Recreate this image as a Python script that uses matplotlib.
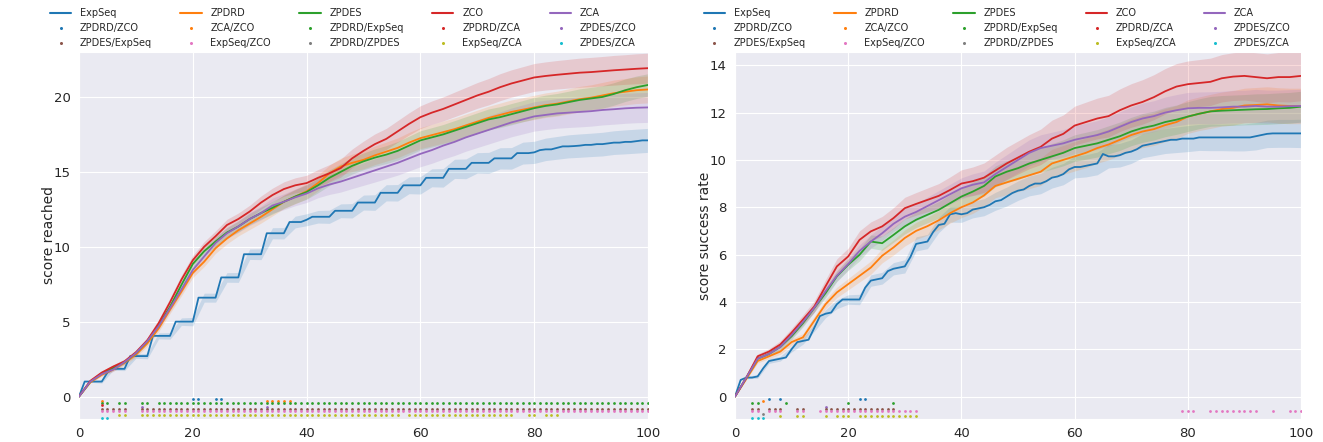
import matplotlib
matplotlib.use("Agg")
import matplotlib.pyplot as plt
from matplotlib.lines import Line2D
import numpy as np
import seaborn as sns

sns.set_style("darkgrid")
plt.rcParams["font.family"] = ["DejaVu Sans"]

# ---------------- data ----------------
series = ["ExpSeq", "ZPDRD", "ZPDES", "ZCO", "ZCA"]
pairs = ["ZPDRD/ZCO", "ZCA/ZCO", "ZPDRD/ExpSeq", "ZPDRD/ZCA", "ZPDES/ZCO",
         "ZPDES/ExpSeq", "ExpSeq/ZCO", "ZPDRD/ZPDES", "ExpSeq/ZCA", "ZPDES/ZCA"]
x_ticks = [0, 20, 40, 60, 80, 100]
yticks_left = [0, 5, 10, 15, 20]
yticks_right = [0, 2, 4, 6, 8, 10, 12, 14]

t_fine = list(range(0, 101))        # every time step (ExpSeq, step-like)
t_coarse = list(range(0, 101, 2))   # every second step (other series)

# ---- left panel: score reached ----
L_expseq = [0.0, 1.0, 1.0, 1.0, 1.0, 1.6, 1.85, 1.85, 1.85, 2.7,
            2.7, 2.7, 2.7, 4.05, 4.05, 4.05, 4.05, 5.0, 5.0, 5.0,
            5.0, 6.6, 6.6, 6.6, 6.6, 7.95, 7.95, 7.95, 7.95, 9.5,
            9.5, 9.5, 9.5, 10.9, 10.9, 10.9, 10.9, 11.65, 11.65, 11.65,
            11.8, 12.0, 12.0, 12.0, 12.0, 12.4, 12.4, 12.4, 12.4, 12.95,
            12.95, 12.95, 12.95, 13.6, 13.6, 13.6, 13.6, 14.1, 14.1, 14.1,
            14.1, 14.6, 14.6, 14.6, 14.6, 15.2, 15.2, 15.2, 15.2, 15.6,
            15.6, 15.6, 15.6, 15.9, 15.9, 15.9, 15.9, 16.25, 16.25, 16.25,
            16.3, 16.45, 16.5, 16.5, 16.6, 16.7, 16.7, 16.72, 16.75, 16.8,
            16.8, 16.85, 16.85, 16.9, 16.95, 16.95, 17.0, 17.0, 17.05, 17.1,
            17.1]
L_zpdrd = [0.0, 0.95, 1.45, 1.8, 2.25, 2.8, 3.55, 4.55, 5.8, 7.0,
           8.25, 9.0, 9.9, 10.55, 11.1, 11.55, 12.0, 12.5, 13.0, 13.35,
           13.7, 14.25, 14.9, 15.35, 15.6, 15.8, 16.1, 16.35, 16.6, 16.95,
           17.25, 17.45, 17.65, 17.85, 18.1, 18.35, 18.6, 18.8, 19.0, 19.15,
           19.3, 19.45, 19.55, 19.7, 19.85, 19.95, 20.1, 20.25, 20.35, 20.45,
           20.5]
L_zpdes = [0.0, 1.0, 1.55, 1.9, 2.3, 2.9, 3.7, 4.75, 6.0, 7.45,
           8.85, 9.7, 10.35, 10.95, 11.35, 11.85, 12.25, 12.6, 13.0, 13.35,
           13.65, 14.1, 14.6, 15.0, 15.4, 15.7, 15.95, 16.15, 16.4, 16.75,
           17.1, 17.3, 17.5, 17.75, 18.0, 18.25, 18.5, 18.65, 18.85, 19.05,
           19.25, 19.4, 19.5, 19.65, 19.8, 19.9, 20.0, 20.2, 20.45, 20.65,
           20.8]
L_zco = [0.0, 1.05, 1.6, 2.0, 2.35, 2.95, 3.75, 4.9, 6.3, 7.8,
         9.1, 10.0, 10.7, 11.45, 11.85, 12.35, 12.95, 13.45, 13.85, 14.1,
         14.25, 14.6, 14.9, 15.25, 15.9, 16.4, 16.85, 17.2, 17.7, 18.2,
         18.65, 18.95, 19.2, 19.5, 19.8, 20.1, 20.35, 20.65, 20.9, 21.1,
         21.3, 21.4, 21.48, 21.55, 21.62, 21.66, 21.72, 21.78, 21.83, 21.88,
         21.92]
L_zca = [0.0, 1.0, 1.5, 1.8, 2.3, 2.9, 3.7, 4.7, 5.9, 7.15,
         8.45, 9.35, 10.25, 10.9, 11.35, 11.85, 12.25, 12.75, 13.0, 13.3,
         13.55, 13.9, 14.15, 14.35, 14.6, 14.85, 15.1, 15.35, 15.6, 15.9,
         16.2, 16.45, 16.75, 17.0, 17.3, 17.55, 17.8, 18.05, 18.3, 18.5,
         18.7, 18.8, 18.9, 18.95, 19.0, 19.05, 19.13, 19.18, 19.24, 19.28,
         19.3]
# standard deviations (on the coarse grid)
sL_expseq = [0.0, 0.05, 0.1, 0.1, 0.12, 0.15, 0.18, 0.2, 0.22, 0.25,
             0.28, 0.3, 0.3, 0.32, 0.33, 0.35, 0.36, 0.37, 0.38, 0.39,
             0.4, 0.42, 0.44, 0.46, 0.48, 0.5, 0.52, 0.54, 0.55, 0.56,
             0.58, 0.6, 0.62, 0.64, 0.66, 0.68, 0.7, 0.71, 0.72, 0.73,
             0.74, 0.75, 0.76, 0.77, 0.78, 0.78, 0.79, 0.79, 0.8, 0.8,
             0.8]
sL_zpdrd = [0.0, 0.05, 0.1, 0.12, 0.15, 0.18, 0.2, 0.22, 0.25, 0.28,
            0.3, 0.32, 0.34, 0.36, 0.38, 0.4, 0.42, 0.44, 0.46, 0.48,
            0.5, 0.52, 0.54, 0.56, 0.58, 0.6, 0.62, 0.64, 0.66, 0.68,
            0.7, 0.72, 0.74, 0.75, 0.76, 0.77, 0.78, 0.79, 0.8, 0.8,
            0.81, 0.82, 0.83, 0.84, 0.85, 0.86, 0.87, 0.88, 0.88, 0.89,
            0.9]
sL_zpdes = [0.0, 0.05, 0.1, 0.12, 0.14, 0.16, 0.18, 0.2, 0.22, 0.25,
            0.28, 0.3, 0.32, 0.34, 0.36, 0.38, 0.4, 0.42, 0.44, 0.46,
            0.48, 0.5, 0.52, 0.54, 0.55, 0.56, 0.58, 0.6, 0.62, 0.63,
            0.64, 0.65, 0.66, 0.67, 0.68, 0.69, 0.7, 0.7, 0.71, 0.71,
            0.72, 0.72, 0.73, 0.73, 0.74, 0.74, 0.75, 0.75, 0.75, 0.75,
            0.75]
sL_zco = [0.0, 0.05, 0.1, 0.12, 0.15, 0.18, 0.2, 0.24, 0.28, 0.3,
          0.32, 0.34, 0.36, 0.38, 0.4, 0.42, 0.44, 0.46, 0.48, 0.5,
          0.52, 0.55, 0.58, 0.6, 0.62, 0.65, 0.68, 0.7, 0.72, 0.74,
          0.76, 0.78, 0.8, 0.82, 0.84, 0.86, 0.88, 0.9, 0.91, 0.92,
          0.93, 0.94, 0.95, 0.96, 0.97, 0.98, 0.98, 0.99, 0.99, 1.0,
          1.0]
sL_zca = [0.0, 0.05, 0.1, 0.12, 0.14, 0.16, 0.18, 0.2, 0.22, 0.25,
          0.28, 0.3, 0.33, 0.36, 0.4, 0.43, 0.46, 0.5, 0.53, 0.56,
          0.6, 0.63, 0.66, 0.7, 0.72, 0.75, 0.78, 0.8, 0.82, 0.84,
          0.86, 0.88, 0.9, 0.91, 0.92, 0.93, 0.94, 0.95, 0.96, 0.97,
          0.98, 0.98, 0.99, 0.99, 1.0, 1.0, 1.0, 1.0, 1.0, 1.0,
          1.0]

# ---- right panel: score success rate ----
R_expseq = [0.0, 0.7, 0.8, 0.8, 0.85, 1.2, 1.5, 1.55, 1.6, 1.65,
            2.0, 2.3, 2.35, 2.4, 2.9, 3.4, 3.5, 3.55, 3.9, 4.1,
            4.1, 4.1, 4.1, 4.6, 4.9, 4.95, 5.0, 5.3, 5.4, 5.45,
            5.5, 5.9, 6.45, 6.5, 6.55, 6.95, 7.25, 7.3, 7.7, 7.75,
            7.7, 7.75, 7.9, 7.95, 8.0, 8.1, 8.25, 8.3, 8.45, 8.6,
            8.7, 8.75, 8.9, 9.0, 9.0, 9.1, 9.25, 9.3, 9.4, 9.6,
            9.7, 9.7, 9.75, 9.8, 9.85, 10.25, 10.15, 10.15, 10.2, 10.3,
            10.35, 10.45, 10.6, 10.65, 10.7, 10.75, 10.8, 10.85, 10.85, 10.9,
            10.9, 10.9, 10.95, 10.95, 10.95, 10.95, 10.95, 10.95, 10.95, 10.95,
            10.95, 10.95, 11.0, 11.05, 11.1, 11.12, 11.12, 11.12, 11.12, 11.12,
            11.12]
R_zpdrd = [0.0, 0.75, 1.5, 1.7, 1.9, 2.3, 2.5, 3.2, 3.9, 4.4,
           4.75, 5.1, 5.45, 5.95, 6.3, 6.7, 7.0, 7.2, 7.45, 7.75,
           8.0, 8.2, 8.5, 8.9, 9.05, 9.2, 9.35, 9.5, 9.85, 10.0,
           10.15, 10.3, 10.5, 10.65, 10.85, 11.05, 11.2, 11.3, 11.47, 11.6,
           11.83, 11.95, 12.05, 12.15, 12.2, 12.3, 12.32, 12.35, 12.3, 12.28,
           12.28]
R_zpdes = [0.0, 0.8, 1.6, 1.8, 2.1, 2.55, 3.1, 3.74, 4.37, 5.08,
           5.57, 5.99, 6.55, 6.48, 6.83, 7.19, 7.47, 7.68, 7.89, 8.17,
           8.45, 8.66, 8.9, 9.3, 9.5, 9.65, 9.85, 10.0, 10.15, 10.3,
           10.5, 10.6, 10.7, 10.85, 11.0, 11.2, 11.35, 11.45, 11.6, 11.7,
           11.83, 11.95, 12.05, 12.08, 12.1, 12.12, 12.14, 12.15, 12.18, 12.2,
           12.25]
R_zco = [0.0, 0.8, 1.7, 1.9, 2.2, 2.7, 3.25, 3.8, 4.66, 5.5,
         5.92, 6.62, 6.98, 7.19, 7.54, 7.96, 8.14, 8.31, 8.48, 8.73,
         9.0, 9.1, 9.25, 9.55, 9.85, 10.1, 10.35, 10.55, 10.9, 11.1,
         11.45, 11.6, 11.75, 11.85, 12.1, 12.3, 12.45, 12.65, 12.9, 13.1,
         13.2, 13.25, 13.3, 13.45, 13.52, 13.55, 13.5, 13.45, 13.5, 13.5,
         13.55]
R_zca = [0.0, 0.8, 1.6, 1.8, 2.1, 2.6, 3.15, 3.75, 4.45, 5.1,
         5.6, 6.15, 6.55, 6.9, 7.3, 7.6, 7.8, 8.05, 8.3, 8.55,
         8.8, 8.95, 9.05, 9.4, 9.7, 10.0, 10.3, 10.5, 10.6, 10.7,
         10.85, 10.95, 11.05, 11.2, 11.4, 11.6, 11.75, 11.85, 12.0, 12.1,
         12.18, 12.2, 12.2, 12.22, 12.25, 12.25, 12.28, 12.25, 12.25, 12.27,
         12.28]
sR_expseq = [0.0, 0.05, 0.08, 0.1, 0.1, 0.12, 0.14, 0.15, 0.17, 0.19,
             0.2, 0.22, 0.24, 0.25, 0.26, 0.28, 0.3, 0.3, 0.32, 0.33,
             0.34, 0.35, 0.36, 0.38, 0.4, 0.41, 0.42, 0.43, 0.44, 0.45,
             0.46, 0.47, 0.48, 0.49, 0.5, 0.5, 0.51, 0.52, 0.53, 0.54,
             0.55, 0.55, 0.56, 0.56, 0.57, 0.57, 0.58, 0.58, 0.59, 0.59,
             0.6]
sR_zpdrd = [0.0, 0.05, 0.08, 0.1, 0.12, 0.14, 0.16, 0.18, 0.2, 0.22,
            0.24, 0.26, 0.28, 0.3, 0.32, 0.34, 0.36, 0.38, 0.4, 0.42,
            0.44, 0.46, 0.48, 0.5, 0.52, 0.54, 0.56, 0.58, 0.6, 0.61,
            0.62, 0.63, 0.64, 0.65, 0.66, 0.67, 0.68, 0.69, 0.7, 0.7,
            0.71, 0.71, 0.72, 0.72, 0.73, 0.73, 0.74, 0.74, 0.75, 0.75,
            0.75]
sR_zpdes = [0.0, 0.05, 0.08, 0.1, 0.12, 0.14, 0.16, 0.18, 0.2, 0.22,
            0.24, 0.26, 0.28, 0.3, 0.31, 0.32, 0.33, 0.34, 0.35, 0.36,
            0.38, 0.4, 0.42, 0.44, 0.46, 0.48, 0.5, 0.52, 0.54, 0.55,
            0.56, 0.57, 0.58, 0.59, 0.6, 0.6, 0.61, 0.61, 0.62, 0.62,
            0.63, 0.63, 0.63, 0.64, 0.64, 0.64, 0.65, 0.65, 0.65, 0.65,
            0.65]
sR_zco = [0.0, 0.05, 0.1, 0.12, 0.15, 0.18, 0.2, 0.24, 0.28, 0.32,
          0.35, 0.38, 0.4, 0.42, 0.44, 0.46, 0.48, 0.5, 0.52, 0.55,
          0.58, 0.6, 0.62, 0.65, 0.68, 0.7, 0.72, 0.75, 0.78, 0.8,
          0.82, 0.84, 0.86, 0.88, 0.9, 0.92, 0.94, 0.95, 0.96, 0.97,
          0.98, 0.99, 1.0, 1.0, 1.01, 1.02, 1.03, 1.03, 1.04, 1.05,
          1.05]
sR_zca = [0.0, 0.05, 0.08, 0.1, 0.12, 0.14, 0.16, 0.18, 0.2, 0.22,
          0.24, 0.26, 0.28, 0.3, 0.32, 0.34, 0.36, 0.38, 0.4, 0.42,
          0.44, 0.46, 0.48, 0.5, 0.52, 0.54, 0.55, 0.56, 0.57, 0.58,
          0.59, 0.6, 0.61, 0.62, 0.63, 0.64, 0.65, 0.65, 0.66, 0.66,
          0.67, 0.67, 0.68, 0.68, 0.69, 0.69, 0.7, 0.7, 0.7, 0.7,
          0.7]

# ---- significance markers: time steps where each pair differs ----
sig_left = {
    "ZPDRD/ZCO": [20, 21, 24, 25],
    "ZCA/ZCO": [4, 33, 34, 35, 36, 37],
    "ZPDRD/ExpSeq": [4, 5, 7, 8, 11, 12] + list(range(14, 101)),
    "ZPDRD/ZCA": [4],
    "ZPDES/ZCO": [11, 33],
    "ZPDES/ExpSeq": [4, 5, 6, 7, 8] + list(range(11, 101)),
    "ExpSeq/ZCO": [4, 5, 6, 7, 8] + list(range(11, 101)),
    "ZPDRD/ZPDES": [],
    "ExpSeq/ZCA": [7, 8] + list(range(11, 57)) + list(range(58, 77)) + [79, 80, 82, 83, 84],
    "ZPDES/ZCA": [4, 5],
}
sig_right = {
    "ZPDRD/ZCO": [6, 8, 22, 23],
    "ZCA/ZCO": [5],
    "ZPDRD/ExpSeq": [3, 4, 9, 20, 28],
    "ZPDRD/ZCA": [],
    "ZPDES/ZCO": [16],
    "ZPDES/ExpSeq": [3, 4, 6, 7, 8, 11, 12] + list(range(16, 29)),
    "ExpSeq/ZCO": [3, 4, 6, 7, 8, 11, 12, 15] + list(range(16, 33))
                  + [79, 80, 81] + list(range(84, 93)) + [95, 98, 99, 100],
    "ZPDRD/ZPDES": [5],
    "ExpSeq/ZCA": [8, 11, 12, 16, 18, 19, 20] + list(range(22, 33)),
    "ZPDES/ZCA": [3, 4, 5],
}

# ---------------- drawing ----------------
line_colors = ["#1f77b4", "#ff7f0e", "#2ca02c", "#d62728", "#9467bd"]
pair_colors = ["#1f77b4", "#ff7f0e", "#2ca02c", "#d62728", "#9467bd",
               "#8c564b", "#e377c2", "#7f7f7f", "#bcbd22", "#17becf"]

fig = plt.figure(figsize=(13.23, 4.42), dpi=100)
axL = fig.add_axes([79 / 1323, 23 / 442, 569 / 1323, 367 / 442])
axR = fig.add_axes([735 / 1323, 23 / 442, 566 / 1323, 367 / 442])


def draw(ax, means, stds, sig, row_step, ylim, yticks, ylabel, anchor_x):
    t_f = np.array(t_fine)
    t_c = np.array(t_coarse)
    for i, (name, m, s) in enumerate(zip(series, means, stds)):
        m = np.array(m)
        s = np.array(s)
        if len(m) == len(t_f):
            ax.plot(t_f, m, color=line_colors[i], lw=1.3, label=name, zorder=3)
            mc = m[::2]
        else:
            ax.plot(t_c, m, color=line_colors[i], lw=1.3, label=name, zorder=3)
            mc = m
        ax.fill_between(t_c, mc - s, mc + s, color=line_colors[i], alpha=0.17,
                        lw=0, zorder=2)
    for j, p in enumerate(pairs):
        xs = sig[p]
        ax.plot(xs, [-row_step * (j + 1)] * len(xs), linestyle="none",
                marker="o", ms=2.0, mew=0, color=pair_colors[j], zorder=4)
    ax.set_xlim(0, 100)
    ax.set_ylim(*ylim)
    ax.set_xticks(x_ticks)
    ax.set_yticks(yticks)
    ax.tick_params(labelsize=9.5, colors="#262626", pad=2.5)
    ax.set_ylabel(ylabel, fontsize=10, color="#262626", labelpad=-2)
    ax.set_xlabel("Time", fontsize=10, color="#262626", labelpad=1)

    # legend: five lines in the first row, then the ten pair markers
    line_h = [Line2D([], [], color=line_colors[i], lw=1.5) for i in range(5)]
    dot_h = [Line2D([], [], color=pair_colors[j], linestyle="none", marker="o",
                    ms=2.2, mew=0) for j in range(10)]
    handles, labels = [], []
    for c in range(5):
        handles += [line_h[c], dot_h[c], dot_h[c + 5]]
        labels += [series[c], pairs[c], pairs[c + 5]]
    ax.legend(handles, labels, ncol=5, loc="lower left",
              bbox_to_anchor=(anchor_x, 1.0), frameon=False, fontsize=7,
              handlelength=2.2, handletextpad=0.9, columnspacing=2.9,
              labelspacing=0.5, borderaxespad=0.0)


draw(axL, [L_expseq, L_zpdrd, L_zpdes, L_zco, L_zca],
     [sL_expseq, sL_zpdrd, sL_zpdes, sL_zco, sL_zca],
     sig_left, 0.14, (-1.5, 23.0), yticks_left, "score reached", -0.058)
draw(axR, [R_expseq, R_zpdrd, R_zpdes, R_zco, R_zca],
     [sR_expseq, sR_zpdrd, sR_zpdes, sR_zco, sR_zca],
     sig_right, 0.09, (-0.95, 14.56), yticks_right, "score success rate", -0.062)

fig.savefig("out.png", dpi=100)
